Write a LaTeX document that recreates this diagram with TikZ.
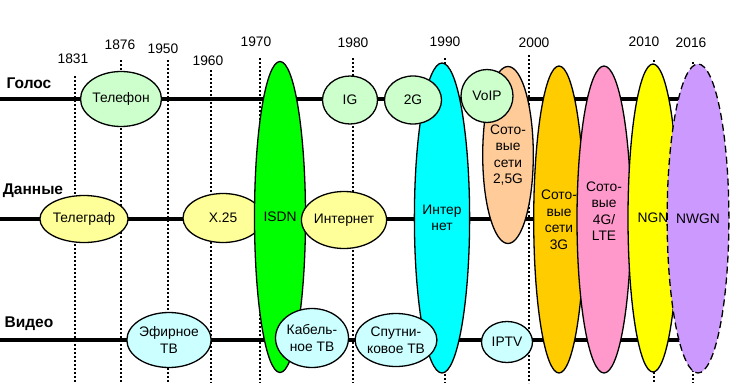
\documentclass[tikz,border=0pt]{standalone}
\usepackage{fontspec}
\setmainfont{Liberation Sans}
\usetikzlibrary{shapes.geometric}
\definecolor{sgreen}{HTML}{CCFFCC}
\definecolor{syellow}{HTML}{FFFF99}
\definecolor{scyan}{HTML}{CCFFFF}
\definecolor{bgreen}{HTML}{00FF00}
\definecolor{bcyan}{HTML}{00FFFF}
\definecolor{bpeach}{HTML}{FFCC99}
\definecolor{borange}{HTML}{FFCC00}
\definecolor{bpink}{HTML}{FF99CC}
\definecolor{byellow}{HTML}{FFFF00}
\definecolor{bpurple}{HTML}{CC99FF}
\begin{document}
\begin{tikzpicture}[x=1pt,y=-1pt,
  every node/.style={font=\fontsize{13.8}{16.5}\selectfont, text=black},
  smallell/.style={ellipse, draw=black, line width=1.3pt, inner sep=0pt, align=center},
  bigell/.style={ellipse, draw=black, line width=1.3pt, inner sep=0pt, align=center},
  track/.style={line width=4pt},
  yearline/.style={line width=1.3pt, dash pattern=on 2pt off 2pt},
  head/.style={font=\fontsize{15.5}{18}\selectfont\bfseries, text=black}]
\useasboundingbox (0,0) rectangle (730,391);
\fill[white] (0,0) rectangle (730,391);

% year lines
\foreach \nm/\x/\t in {a/75/76, b/121/60, c/168/60, d/211/70, e/260/58, f/353/58, g/445/58, h/529/55, i/654/60, j/693/62}{
  \coordinate (yt\nm) at (\x,\t);
  \coordinate (yb\nm) at (\x,383);
  \draw[yearline] (yt\nm) -- (yb\nm);
}
% year labels
\node (y1831) at (73,59) {1831};
\node (y1876) at (120,45) {1876};
\node (y1950) at (163,49) {1950};
\node (y1960) at (208,61) {1960};
\node (y1970) at (256,42) {1970};
\node (y1980) at (353,43) {1980};
\node (y1990) at (445,42) {1990};
\node (y2000) at (534,43) {2000};
\node (y2010) at (644,42) {2010};
\node (y2016) at (691,43) {2016};

% headings
\node[head] (hvoice) at (29,83) {Голос};
\node[head] (hdata) at (33,191) {Данные};
\node[head] (hvideo) at (29,324) {Видео};

% tracks
\coordinate (v0) at (0,99);  \coordinate (v1) at (700,99);
\coordinate (d0) at (0,219); \coordinate (d1) at (700,219);
\coordinate (w0) at (0,340); \coordinate (w1) at (700,340);
\draw[track] (v0) -- (v1);
\draw[track] (d0) -- (d1);
\draw[track] (w0) -- (w1);

% early ellipses
\node[smallell, fill=sgreen, minimum width=72pt, minimum height=55pt] (tel) at (121,99) {Телефон};
\node[smallell, fill=syellow, minimum width=81pt, minimum height=47pt] (tgr) at (84,219) {Телеграф};
\node[smallell, fill=syellow, minimum width=80pt, minimum height=49pt] (x25) at (223,218) {X.25};
\node[smallell, fill=scyan, minimum width=79pt, minimum height=55pt] (air) at (169,340) {Эфирное\\ТВ};

% ISDN
\node[bigell, fill=bgreen, minimum width=51pt, minimum height=311pt] (isdn) at (280,217) {ISDN};

\node[smallell, fill=syellow, minimum width=73pt, minimum height=57pt] (inet) at (344,220) {Интернет};
\node[smallell, fill=scyan, minimum width=73pt, minimum height=59pt] (cab) at (312,338) {Кабель-\\ное ТВ};
\node[smallell, fill=sgreen, minimum width=55pt, minimum height=48pt] (ig) at (350,100) {IG};

% Internet big
\node[bigell, fill=bcyan, minimum width=51pt, minimum height=310pt] (binet) at (442,218) {Интер\\нет};

\node[smallell, fill=sgreen, minimum width=57pt, minimum height=48pt] (g2) at (413,100) {2G};
\node[smallell, fill=scyan, minimum width=73pt, minimum height=53pt] (sat) at (396,340) {Спутни-\\ковое ТВ};

% 2.5G
\node[bigell, fill=bpeach, minimum width=50pt, minimum height=177pt] (g25) at (508,155) {Сото-\\вые\\сети\\2,5G};

\node[smallell, fill=sgreen, minimum width=52pt, minimum height=53pt] (voip) at (487,96) {VoIP};
\node[smallell, fill=scyan, minimum width=51pt, minimum height=41pt] (iptv) at (507,342) {IPTV};

% later generations
\node[bigell, fill=borange, minimum width=46pt, minimum height=307pt] (g3) at (559,219.5) {Сото-\\вые\\сети\\3G};
\node[bigell, fill=bpink, minimum width=54pt, minimum height=307pt] (g4) at (604,219.5) {};
\node (g4t) at (604,211) [align=center] {Сото-\\вые\\4G/\\LTE};
\node[bigell, fill=byellow, minimum width=50pt, minimum height=308pt] (ngn) at (653,218) {NGN};
\node[bigell, fill=bpurple, dash pattern=on 7pt off 4pt, minimum width=50pt, minimum height=309pt] (nwgn) at (698,218.5) {NWGN};
\end{tikzpicture}
\end{document}
